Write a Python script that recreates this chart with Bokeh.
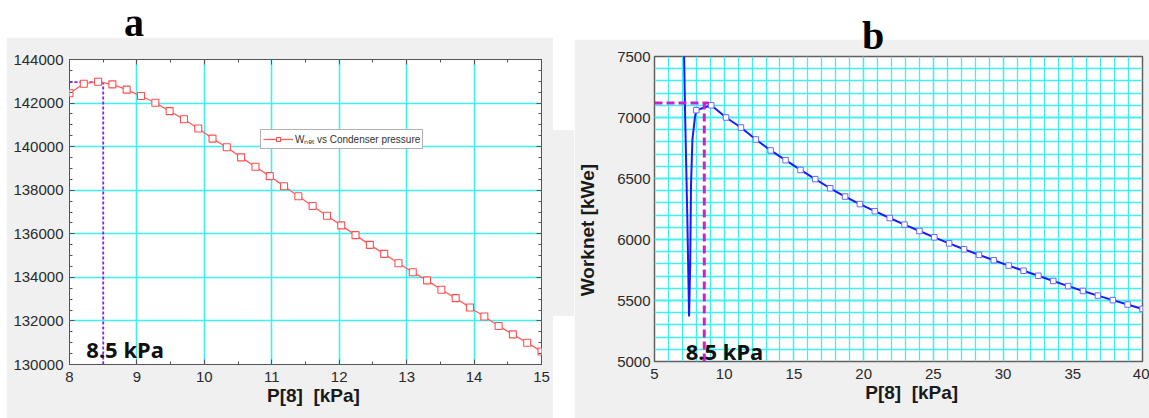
from bokeh.plotting import figure
from bokeh.layouts import row, column
from bokeh.models import (Div, LinearAxis, SingleIntervalTicker, Legend, LegendItem,
                          BasicTickFormatter)
from bokeh.embed import file_html
from bokeh.resources import INLINE
from bokeh.core.properties import value

# ---------------- data: panel a ----------------
a_pressure = [8.0, 8.212, 8.424, 8.636, 8.848, 9.061, 9.273, 9.485, 9.697, 9.909,
              10.121, 10.333, 10.545, 10.758, 10.970, 11.182, 11.394, 11.606, 11.818,
              12.030, 12.242, 12.455, 12.667, 12.879, 13.091, 13.303, 13.515, 13.727,
              13.939, 14.152, 14.364, 14.576, 14.788, 15.0]
a_wnet = [142450, 142890, 142980, 142860, 142615, 142323, 142015, 141631, 141260, 140830,
          140370, 139969, 139508, 139077, 138646, 138185, 137723, 137277, 136831,
          136385, 135938, 135492, 135077, 134646, 134231, 133860, 133431, 133046,
          132615, 132200, 131769, 131385, 131000, 130600]
a_opt_p = 8.5
a_opt_w = 142960
a_label = "8.5 kPa"
a_legend = "W\u2099\u2091\u209c vs Condenser pressure"

# ---------------- data: panel b ----------------
b_spike_p = [7.10, 7.20, 7.35, 7.48, 7.56, 7.62, 7.72, 7.90]
b_spike_w = [7650, 7000, 6200, 5370, 5800, 6450, 6820, 7000]
b_pressure = [8.0, 9.07, 10.13, 11.2, 12.27, 13.33, 14.4, 15.47, 16.53, 17.6, 18.67,
              19.73, 20.8, 21.87, 22.93, 24.0, 25.07, 26.13, 27.2, 28.27, 29.33,
              30.4, 31.47, 32.53, 33.6, 34.67, 35.73, 36.8, 37.87, 38.93, 40.0]
b_worknet = [7060, 7100, 7000, 6918, 6820, 6730, 6650, 6570, 6495, 6420, 6352,
             6290, 6232, 6176, 6122, 6070, 6018, 5968, 5920, 5874, 5830,
             5786, 5744, 5703, 5660, 5618, 5578, 5540, 5503, 5467, 5431]
b_opt_p = 8.57
b_opt_w = 7118
b_opt_w_end = 8.9
b_label = "8.5 kPa"

GRAY = "#f0f0f0"
CYAN = "#3ff0f0"
FONT = "Liberation Sans"
NB = "\u00a0"


def style_axis(ax, tick_in=5, minor_in=3, labels=True):
    ax.axis_line_color = None
    ax.major_tick_in = tick_in
    ax.major_tick_out = 0
    ax.minor_tick_in = minor_in
    ax.minor_tick_out = 0
    ax.major_tick_line_color = "#555555"
    ax.minor_tick_line_color = "#555555"
    ax.major_label_text_font = FONT
    ax.major_label_text_color = "#2a2a2a"
    ax.axis_label_text_font = FONT
    ax.axis_label_text_font_style = "bold"
    ax.axis_label_text_font_size = "19px"
    ax.axis_label_text_color = "#1a1a1a"
    if labels:
        ax.major_label_text_font_size = "15px"
    else:
        ax.major_label_text_font_size = "1px"
        ax.major_label_text_color = None
        ax.major_label_standoff = 0


# ---------------- panel a ----------------
pa = figure(width=547, height=381, x_range=(8, 15), y_range=(130000, 144000),
            output_backend="svg", toolbar_location=None,
            min_border_left=63, min_border_right=12, min_border_top=22, min_border_bottom=54,
            border_fill_color=GRAY, background_fill_color="white",
            outline_line_color="#555555", outline_line_width=1)

pa.xaxis.ticker = SingleIntervalTicker(interval=1, num_minor_ticks=2)
pa.yaxis.ticker = SingleIntervalTicker(interval=2000, num_minor_ticks=4)
pa.yaxis.formatter = BasicTickFormatter(use_scientific=False)
pa.xaxis.axis_label = NB * 3 + "P[8]" + NB * 2 + "[kPa]"
for ax in pa.xaxis:
    style_axis(ax)
    ax.major_label_standoff = 7
    ax.axis_label_standoff = 0
for ax in pa.yaxis:
    style_axis(ax)
    ax.major_label_standoff = 6

top_a = LinearAxis(ticker=SingleIntervalTicker(interval=1, num_minor_ticks=2))
right_a = LinearAxis(ticker=SingleIntervalTicker(interval=2000, num_minor_ticks=4))
style_axis(top_a, labels=False)
style_axis(right_a, labels=False)
pa.add_layout(top_a, "above")
pa.add_layout(right_a, "right")

pa.xgrid.grid_line_color = CYAN
pa.ygrid.grid_line_color = CYAN
pa.xgrid.grid_line_width = 1.6
pa.ygrid.grid_line_width = 1.6

pa.line([8, a_opt_p], [a_opt_w, a_opt_w], line_color="#8a1cff", line_width=1.8, line_dash="3 2")
pa.line([a_opt_p, a_opt_p], [130000, a_opt_w], line_color="#8a1cff", line_width=1.8, line_dash="3 2")

a_line = pa.line(a_pressure, a_wnet, line_color="#ff5f5f", line_width=1.3)
a_pts = pa.scatter(a_pressure, a_wnet, marker="square", size=7, line_color="#ff5050",
                   fill_color="white", line_width=1.1)

pa.text(x=[8.25], y=[130700], text=[a_label], text_font=value("Noto Sans"),
        text_font_size="22px", text_font_style="bold", text_baseline="alphabetic",
        text_align="left", text_color="#111111")

legend = Legend(items=[LegendItem(label=a_legend, renderers=[a_line, a_pts])],
                location=(191, 215), label_text_font=FONT, label_text_font_size="10px",
                label_text_color="#333333", glyph_width=30, glyph_height=10,
                label_height=10, label_standoff=2, padding=2, spacing=0, margin=0,
                border_line_color="#666666", border_line_width=1.2,
                background_fill_color="white", background_fill_alpha=1)
pa.add_layout(legend)

# ---------------- panel b ----------------
pb = figure(width=575, height=379, x_range=(5, 40), y_range=(5000, 7500),
            output_backend="svg", toolbar_location=None,
            min_border_left=78, min_border_right=7, min_border_top=17, min_border_bottom=57,
            border_fill_color=GRAY, background_fill_color="white",
            outline_line_color="#606060", outline_line_width=1.5)
pb.xaxis.ticker = SingleIntervalTicker(interval=5, num_minor_ticks=5)
pb.yaxis.ticker = SingleIntervalTicker(interval=500, num_minor_ticks=5)
pb.xaxis.axis_label = NB * 5 + "P[8]" + NB * 2 + "[kPa]"
pb.yaxis.axis_label = "Worknet [kWe]" + NB * 8
for ax in pb.xaxis:
    style_axis(ax, tick_in=0, minor_in=0)
    ax.major_label_standoff = 7
    ax.axis_label_standoff = 0
for ax in pb.yaxis:
    style_axis(ax, tick_in=0, minor_in=0)
    ax.major_label_standoff = 4
    ax.axis_label_standoff = 16

for g in (pb.xgrid, pb.ygrid):
    g.grid_line_color = CYAN
    g.grid_line_width = 1.3
    g.minor_grid_line_color = CYAN
    g.minor_grid_line_width = 1.3

pb.line(b_spike_p + b_pressure, b_spike_w + b_worknet, line_color="#1a1aff", line_width=2)
pb.scatter(b_pressure, b_worknet, marker="square", size=5.5, line_color="#6a6aff",
           fill_color="white", line_width=1)

pb.line([5, b_opt_w_end], [b_opt_w, b_opt_w], line_color="#cc22cc", line_width=3, line_dash="8 4")
pb.line([b_opt_p, b_opt_p], [5000, b_opt_w], line_color="#cc22cc", line_width=3, line_dash="8 4")

pb.text(x=[7.24], y=[5090], text=[b_label], text_font=value("Noto Sans"),
        text_font_size="22px", text_font_style="bold", text_baseline="alphabetic",
        text_align="left", text_color="#111111")

# ---------------- titles / frame pieces ----------------
spacer = Div(text="", width=6, height=418, margin=0, styles={"background-color": "white"})
title_a = Div(text="<div style=\"font-family:'Liberation Serif';font-weight:bold;font-size:40px;"
                   "line-height:45px;padding-left:118px;color:#000;\">a</div>",
              width=547, height=37, margin=0,
              styles={"background-color": "white", "overflow": "visible"})
title_b = Div(text="<div style=\"font-family:'Liberation Serif';font-weight:bold;font-size:40px;"
                   "line-height:40px;padding-left:288px;padding-top:16px;color:#000;\">b</div>",
              width=575, height=39, margin=0,
              styles={"background-color": "white", "overflow": "visible",
                      "position": "relative", "z-index": "10"})
gap = Div(text="", width=21, height=418, margin=0,
          styles={"background": "linear-gradient(to bottom, #ffffff 0px, #ffffff 130px, "
                                + GRAY + " 130px, " + GRAY + " 316px, #ffffff 316px, #ffffff 418px)"})

layout = row(spacer, column(title_a, pa, spacing=0), gap, column(title_b, pb, spacing=0),
             spacing=0)

open("out.html", "w").write(file_html(layout, INLINE))
